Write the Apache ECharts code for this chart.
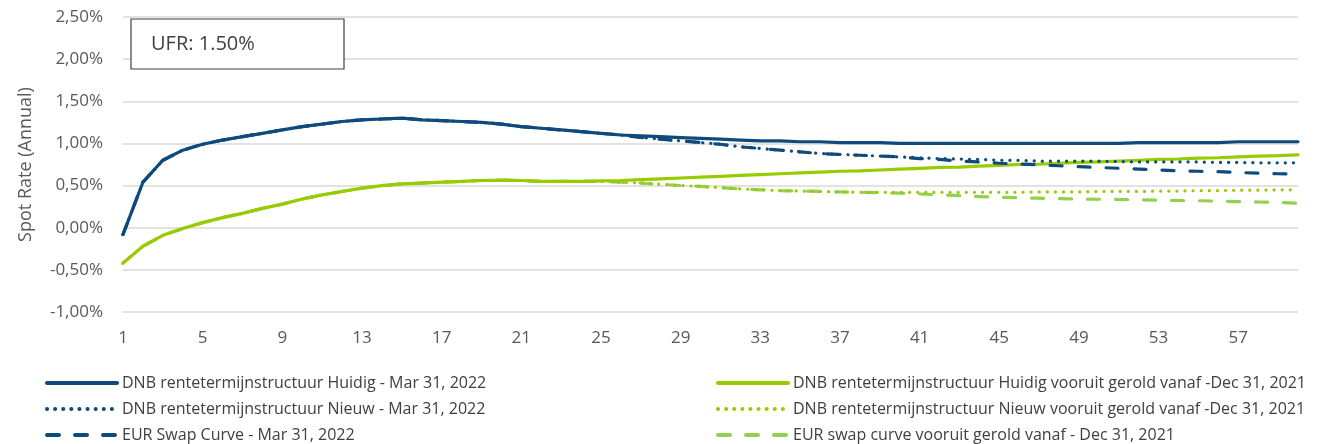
<!DOCTYPE html>
<html>
<head>
<meta charset="utf-8">
<script src="https://cdn.jsdelivr.net/npm/echarts@6/dist/echarts.min.js"></script>
<style>
  html, body { margin: 0; padding: 0; background: #fff; }
  #chart { width: 1328px; height: 444px; }
</style>
</head>
<body>
<div id="chart"></div>
<script>
// looptijd in jaren
var years = [];
for (var i = 1; i <= 60; i++) years.push(String(i));

var yTicks = [-1.0, -0.5, 0.0, 0.5, 1.0, 1.5, 2.0, 2.5];

// blauw - Mar 31, 2022
var huidig2022 = [-0.08, 0.54, 0.80, 0.92, 0.99, 1.04, 1.08, 1.12, 1.16, 1.20,
  1.23, 1.26, 1.28, 1.29, 1.30, 1.28, 1.27, 1.26, 1.25, 1.23,
  1.20, 1.18, 1.16, 1.14, 1.12, 1.10, 1.09, 1.08, 1.07, 1.06,
  1.05, 1.04, 1.03, 1.03, 1.02, 1.02, 1.01, 1.01, 1.01, 1.00,
  1.00, 1.00, 1.00, 1.00, 1.00, 1.00, 1.00, 1.00, 1.00, 1.00,
  1.00, 1.01, 1.01, 1.01, 1.01, 1.01, 1.02, 1.02, 1.02, 1.02];
var nieuw2022 = [-0.08, 0.54, 0.80, 0.92, 0.99, 1.04, 1.08, 1.12, 1.16, 1.20,
  1.23, 1.26, 1.28, 1.29, 1.30, 1.28, 1.27, 1.26, 1.25, 1.23,
  1.20, 1.18, 1.16, 1.14, 1.12, 1.10, 1.07, 1.05, 1.03, 1.01,
  0.99, 0.96, 0.94, 0.92, 0.90, 0.88, 0.87, 0.86, 0.85, 0.84,
  0.83, 0.82, 0.815, 0.81, 0.80, 0.80, 0.79, 0.79, 0.79, 0.79,
  0.785, 0.78, 0.78, 0.78, 0.78, 0.775, 0.775, 0.77, 0.77, 0.77];
var swap2022 = [-0.08, 0.54, 0.80, 0.92, 0.99, 1.04, 1.08, 1.12, 1.16, 1.20,
  1.23, 1.26, 1.28, 1.29, 1.30, 1.28, 1.27, 1.26, 1.25, 1.23,
  1.20, 1.18, 1.16, 1.14, 1.12, 1.10, 1.07, 1.05, 1.03, 1.01,
  0.99, 0.96, 0.94, 0.92, 0.90, 0.88, 0.87, 0.86, 0.85, 0.84,
  0.82, 0.81, 0.79, 0.78, 0.765, 0.755, 0.745, 0.735, 0.725, 0.715,
  0.705, 0.695, 0.685, 0.675, 0.67, 0.665, 0.655, 0.648, 0.64, 0.635];

// groen - vooruit gerold vanaf Dec 31, 2021
var huidig2021 = [-0.42, -0.22, -0.09, -0.01, 0.06, 0.12, 0.17, 0.23, 0.28, 0.34,
  0.39, 0.43, 0.47, 0.50, 0.52, 0.53, 0.54, 0.55, 0.56, 0.565,
  0.56, 0.55, 0.55, 0.55, 0.555, 0.56, 0.57, 0.58, 0.59, 0.60,
  0.61, 0.62, 0.63, 0.64, 0.65, 0.66, 0.67, 0.675, 0.685, 0.695,
  0.705, 0.715, 0.72, 0.73, 0.74, 0.75, 0.755, 0.765, 0.775, 0.78,
  0.79, 0.80, 0.81, 0.815, 0.825, 0.83, 0.84, 0.85, 0.855, 0.865];
var nieuw2021 = [-0.42, -0.22, -0.09, -0.01, 0.06, 0.12, 0.17, 0.23, 0.28, 0.34,
  0.39, 0.43, 0.47, 0.50, 0.52, 0.53, 0.54, 0.55, 0.56, 0.565,
  0.56, 0.55, 0.55, 0.55, 0.55, 0.54, 0.53, 0.515, 0.50, 0.49,
  0.475, 0.46, 0.45, 0.44, 0.435, 0.43, 0.425, 0.42, 0.42, 0.42,
  0.42, 0.42, 0.42, 0.42, 0.42, 0.42, 0.425, 0.425, 0.425, 0.43,
  0.43, 0.43, 0.435, 0.435, 0.44, 0.44, 0.445, 0.445, 0.45, 0.45];
var swap2021 = [-0.42, -0.22, -0.09, -0.01, 0.06, 0.12, 0.17, 0.23, 0.28, 0.34,
  0.39, 0.43, 0.47, 0.50, 0.52, 0.53, 0.54, 0.55, 0.56, 0.565,
  0.56, 0.55, 0.55, 0.55, 0.55, 0.54, 0.53, 0.515, 0.50, 0.49,
  0.475, 0.46, 0.45, 0.44, 0.435, 0.43, 0.425, 0.42, 0.415, 0.41,
  0.40, 0.39, 0.38, 0.37, 0.36, 0.355, 0.35, 0.345, 0.34, 0.338,
  0.335, 0.33, 0.327, 0.323, 0.32, 0.315, 0.31, 0.305, 0.30, 0.29];

var BLUE = '#0E4A7B';
var GREEN = '#99CC00';
var LGREEN = '#92D050';
var txt = '#595959';
var font = 'Open Sans';

var dotted = [0.1, 8];
var dashed = [12, 16];

function mk(name, data, color, type) {
  return {
    name: name,
    type: 'line',
    data: data,
    symbol: 'none',
    smooth: false,
    lineStyle: { color: color, width: 3.2, type: type, cap: 'round' },
    itemStyle: { color: color },
    emphasis: { disabled: true }
  };
}

var leftNames = ['DNB rentetermijnstructuur Huidig - Mar 31, 2022',
  'DNB rentetermijnstructuur Nieuw - Mar 31, 2022',
  'EUR Swap Curve - Mar 31, 2022'];
var rightNames = ['DNB rentetermijnstructuur Huidig vooruit gerold vanaf -Dec 31, 2021',
  'DNB rentetermijnstructuur Nieuw vooruit gerold vanaf -Dec 31, 2021',
  'EUR swap curve vooruit gerold vanaf - Dec 31, 2021'];

var chart = echarts.init(document.getElementById('chart'));

var legendBase = {
  orient: 'vertical',
  top: 370,
  height: 90,
  itemWidth: 70,
  itemHeight: 16,
  itemGap: 10,
  selectedMode: false,
  itemStyle: { opacity: 0 },
  lineStyle: { width: 4, cap: 'round' },
  textStyle: { color: '#404040', fontFamily: font, fontSize: 16 }
};

chart.setOption({
  animation: false,
  grid: { left: 123, right: 30, top: 17, bottom: 132 },
  legend: [
    Object.assign({}, legendBase, { left: 40, data: leftNames }),
    Object.assign({}, legendBase, { left: 711, data: rightNames })
  ],
  xAxis: {
    type: 'category',
    data: years,
    boundaryGap: false,
    axisLine: { show: false },
    axisTick: { show: false },
    axisLabel: { interval: 3, color: txt, fontFamily: font, fontSize: 17, margin: 18 }
  },
  yAxis: {
    type: 'value',
    min: yTicks[0],
    max: yTicks[yTicks.length - 1],
    interval: 0.5,
    name: 'Spot Rate (Annual)',
    nameLocation: 'middle',
    nameGap: 88,
    nameTextStyle: { color: txt, fontFamily: font, fontSize: 18 },
    axisLine: { show: false },
    axisTick: { show: false },
    splitLine: { lineStyle: { color: '#D9D9D9', width: 1.5 } },
    axisLabel: {
      color: txt, fontFamily: font, fontSize: 17, margin: 20,
      formatter: function (v) { return v.toFixed(2).replace('.', ',') + '%'; }
    }
  },
  graphic: [
    {
      type: 'rect',
      shape: { x: 131, y: 19, width: 213, height: 50 },
      style: { fill: '#fff', stroke: '#404040', lineWidth: 1.2 },
      z: 100
    },
    {
      type: 'text',
      x: 151, y: 44,
      style: { text: 'UFR: 1.50%', fill: '#404040', font: '20px "Open Sans"', verticalAlign: 'middle' },
      z: 101
    }
  ],
  series: [
    mk(rightNames[2], swap2021, LGREEN, dashed),
    mk(rightNames[1], nieuw2021, GREEN, dotted),
    mk(rightNames[0], huidig2021, GREEN, 'solid'),
    mk(leftNames[2], swap2022, BLUE, dashed),
    mk(leftNames[1], nieuw2022, BLUE, dotted),
    mk(leftNames[0], huidig2022, BLUE, 'solid')
  ]
});
</script>
</body>
</html>
